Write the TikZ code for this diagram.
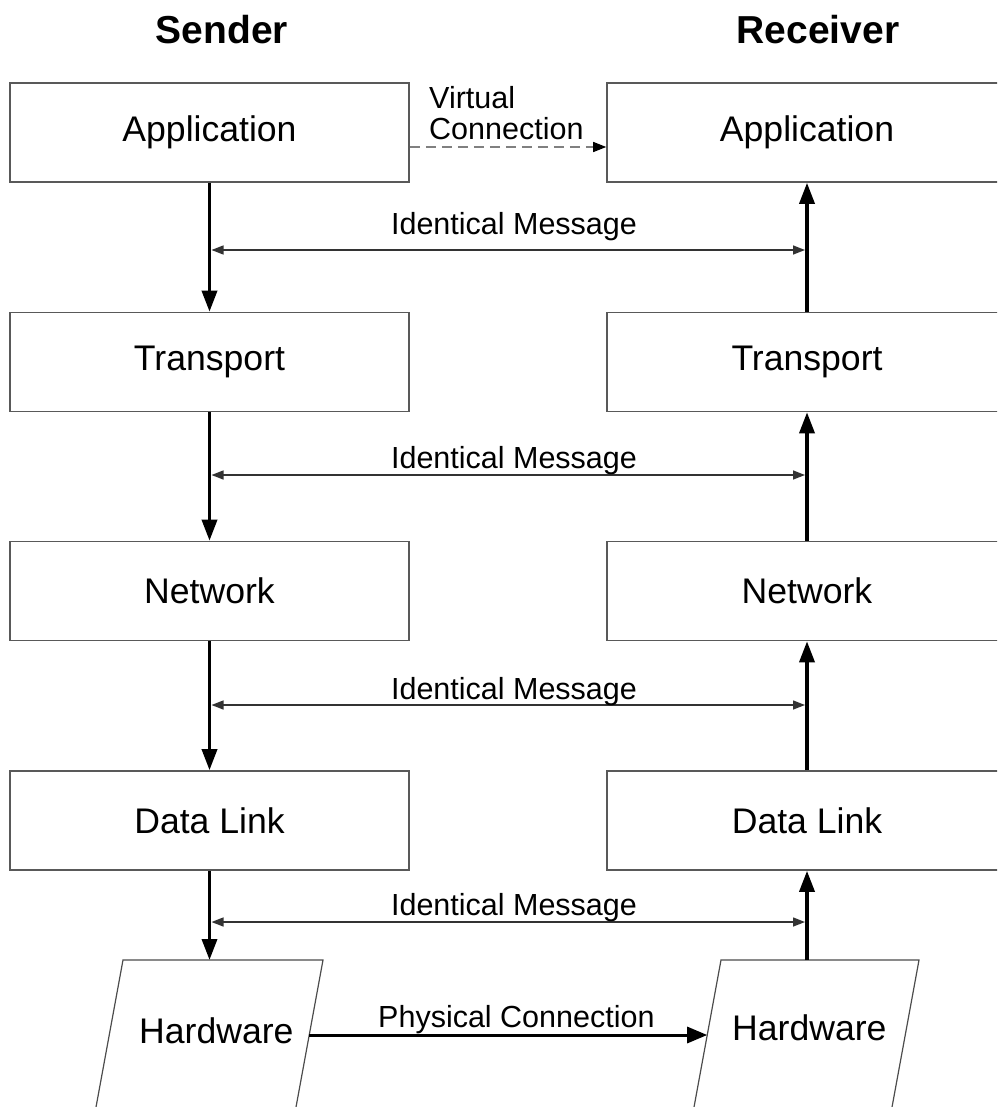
\documentclass[tikz,border=0pt]{standalone}
\usepackage{fontspec}
\setmainfont{Liberation Sans}
\usetikzlibrary{arrows.meta}

\begin{document}
\begin{tikzpicture}[x=1pt,y=-1pt,
  layerbox/.style={draw=black!65, line width=1.6pt, minimum height=99pt,
    inner sep=0pt, font=\fontsize{35.6}{40}\selectfont},
  leftbox/.style={layerbox, minimum width=399pt},
  rightbox/.style={layerbox, minimum width=400pt},
  title/.style={font=\bfseries\fontsize{39}{42}\selectfont, inner sep=0pt},
  lbl/.style={font=\fontsize{30.5}{31.5}\selectfont, inner sep=0pt},
  hwtext/.style={font=\fontsize{35.6}{40}\selectfont, inner sep=0pt},
  hwline/.style={draw=black!70, line width=1.2pt},
  bigarrow/.style={-{Triangle[length=21pt,width=15pt]}, line width=3.5pt, black},
  physarrow/.style={-{Triangle[length=20pt,width=16pt]}, line width=3pt, black},
  msgarrow/.style={{Triangle[length=12pt,width=9pt]}-{Triangle[length=12pt,width=9pt]},
    line width=1.4pt, black!80},
  virtarrow/.style={-{Triangle[length=13pt,width=10pt,color=black]}, draw=black!50,
    line width=1.5pt, dash pattern=on 10pt off 6pt}
]
\useasboundingbox (0,0) rectangle (997,1107);
\clip (0,0) rectangle (997,1107);

% column titles
\node[title, anchor=base] (tS) at (222,44) {Sender};
\node[title, anchor=base] (tR) at (818,44) {Receiver};

% sender stack
\node[leftbox] (sApp) at (209.5,132.5) {Application};
\node[leftbox] (sTra) at (209.5,362)   {Transport};
\node[leftbox] (sNet) at (209.5,591)   {Network};
\node[leftbox] (sDL)  at (209.5,820.5) {Data Link};

% receiver stack
\node[rightbox] (rApp) at (807,132.5) {Application};
\node[rightbox] (rTra) at (807,362)   {Transport};
\node[rightbox] (rNet) at (807,591)   {Network};
\node[rightbox] (rDL)  at (807,820.5) {Data Link};

% hardware parallelograms
\draw[hwline] (123,960) -- (323,960) -- (286.3,1160) -- (86.3,1160) -- cycle;
\draw[hwline] (721,960) -- (919,960) -- (882.3,1160) -- (684.3,1160) -- cycle;
\node[hwtext, anchor=base west] (hwL) at (139,1043) {Hardware};
\node[hwtext, anchor=base west] (hwR) at (732,1040) {Hardware};
\coordinate (hwLtop) at (209.5,960);
\coordinate (hwRtop) at (807,960);
\coordinate (hwLedge) at (309.2,1035);
\coordinate (hwRedge) at (707.2,1035);

% downward flow at the sender
\draw[bigarrow] (sApp.south) -- (sTra.north);
\draw[bigarrow] (sTra.south) -- (sNet.north);
\draw[bigarrow] (sNet.south) -- (sDL.north);
\draw[bigarrow] (sDL.south) -- (hwLtop);

% upward flow at the receiver
\draw[bigarrow] (rTra.north) -- (rApp.south);
\draw[bigarrow] (rNet.north) -- (rTra.south);
\draw[bigarrow] (rDL.north) -- (rNet.south);
\draw[bigarrow] (hwRtop) -- (rDL.south);

% peer-level messages
\coordinate (m1L) at (211.5,250); \coordinate (m1R) at (805,250);
\coordinate (m2L) at (211.5,475); \coordinate (m2R) at (805,475);
\coordinate (m3L) at (211.5,705); \coordinate (m3R) at (805,705);
\coordinate (m4L) at (211.5,922); \coordinate (m4R) at (805,922);
\draw[msgarrow] (m1L) -- (m1R);
\draw[msgarrow] (m2L) -- (m2R);
\draw[msgarrow] (m3L) -- (m3R);
\draw[msgarrow] (m4L) -- (m4R);
\node[lbl, anchor=base] (l1) at (514,235) {Identical Message};
\node[lbl, anchor=base] (l2) at (514,468) {Identical Message};
\node[lbl, anchor=base] (l3) at (514,699) {Identical Message};
\node[lbl, anchor=base] (l4) at (514,915) {Identical Message};

% virtual connection between applications
\draw[virtarrow] ([yshift=-14.5pt]sApp.east) -- ([yshift=-14.5pt]rApp.west);
\node[lbl, anchor=north west, align=left] (lv) at (429,86) {Virtual\\Connection};

% physical connection between hardware
\draw[physarrow] (hwLedge) -- (hwRedge);
\node[lbl, anchor=base west] (lp) at (378,1027) {Physical Connection};
\end{tikzpicture}
\end{document}
